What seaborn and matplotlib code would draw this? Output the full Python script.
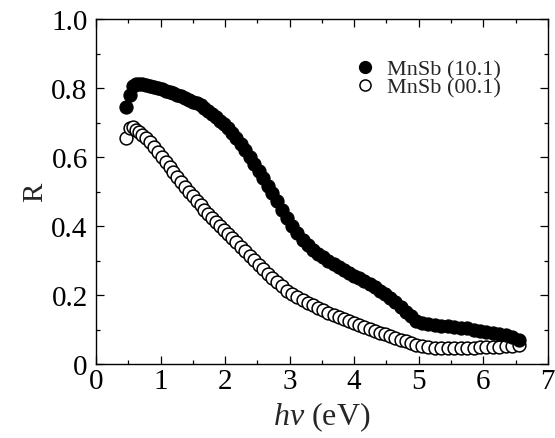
import matplotlib
matplotlib.use("Agg")
import matplotlib.pyplot as plt
import seaborn as sns
import pandas as pd
from matplotlib.ticker import MultipleLocator
from matplotlib.lines import Line2D

energy = [0.47, 0.52, 0.57, 0.62, 0.67, 0.72, 0.78, 0.84, 0.90, 0.96, 1.02, 1.08, 1.14, 1.20,
          1.26, 1.32, 1.38, 1.44, 1.50, 1.56, 1.62, 1.68, 1.74, 1.80, 1.86, 1.92, 1.98, 2.04,
          2.10, 2.17, 2.24, 2.31, 2.38, 2.45, 2.52, 2.59, 2.66, 2.73, 2.80, 2.88, 2.96, 3.04,
          3.12, 3.20, 3.28, 3.36, 3.44, 3.52, 3.60, 3.68, 3.76, 3.84, 3.92, 4.00, 4.08, 4.16,
          4.24, 4.32, 4.40, 4.48, 4.56, 4.64, 4.72, 4.80, 4.88, 4.96, 5.05, 5.15, 5.25, 5.35,
          5.45, 5.55, 5.65, 5.75, 5.85, 5.95, 6.05, 6.15, 6.25, 6.35, 6.45, 6.55]

r_101 = [0.745, 0.780, 0.805, 0.812, 0.813, 0.812, 0.810, 0.807, 0.804, 0.800, 0.797, 0.793,
         0.789, 0.785, 0.781, 0.776, 0.771, 0.766, 0.761, 0.756, 0.750, 0.743, 0.734, 0.725,
         0.716, 0.706, 0.695, 0.683, 0.670, 0.655, 0.638, 0.620, 0.601, 0.581, 0.560, 0.539,
         0.517, 0.495, 0.472, 0.448, 0.424, 0.400, 0.380, 0.360, 0.344, 0.330, 0.319, 0.309,
         0.299, 0.290, 0.281, 0.272, 0.264, 0.256, 0.248, 0.240, 0.231, 0.222, 0.212, 0.202,
         0.191, 0.179, 0.166, 0.152, 0.138, 0.126, 0.120, 0.115, 0.113, 0.111, 0.109, 0.107,
         0.105, 0.103, 0.100, 0.097, 0.094, 0.091, 0.088, 0.084, 0.079, 0.070]

r_001 = [0.655, 0.685, 0.688, 0.680, 0.672, 0.665, 0.655, 0.643, 0.630, 0.616, 0.601, 0.586,
         0.571, 0.556, 0.541, 0.527, 0.513, 0.499, 0.486, 0.473, 0.460, 0.447, 0.435, 0.423,
         0.411, 0.399, 0.388, 0.377, 0.366, 0.353, 0.340, 0.327, 0.314, 0.301, 0.288, 0.275,
         0.262, 0.250, 0.238, 0.225, 0.213, 0.202, 0.193, 0.185, 0.177, 0.170, 0.163, 0.156,
         0.149, 0.142, 0.136, 0.130, 0.124, 0.118, 0.112, 0.106, 0.101, 0.096, 0.091, 0.086,
         0.081, 0.076, 0.071, 0.066, 0.061, 0.056, 0.052, 0.049, 0.047, 0.046, 0.046, 0.046,
         0.046, 0.047, 0.047, 0.048, 0.048, 0.049, 0.050, 0.051, 0.052, 0.055]

labels = ["MnSb (10.1)", "MnSb (00.1)"]
xticks = [0, 1, 2, 3, 4, 5, 6, 7]
xticklabels = ["0", "1", "2", "3", "4", "5", "6", "7"]
yticks = [0, 0.2, 0.4, 0.6, 0.8, 1.0]
yticklabels = ["0", "0.2", "0.4", "0.6", "0.8", "1.0"]

sns.set_style("ticks")
plt.rcParams['font.family'] = ['Liberation Serif', 'DejaVu Serif']
plt.rcParams['mathtext.fontset'] = 'custom'
plt.rcParams['mathtext.it'] = 'Liberation Serif:italic'
plt.rcParams['mathtext.rm'] = 'Liberation Serif'

df1 = pd.DataFrame({"E": energy, "R": r_101})
df2 = pd.DataFrame({"E": energy, "R": r_001})

fig = plt.figure(figsize=(5.55, 4.39), dpi=100)
ax = fig.add_axes([0.173, 0.1686, 0.814, 0.7854])

sns.scatterplot(data=df1, x="E", y="R", ax=ax, s=90, color="black", edgecolor="black",
                linewidth=0.8, zorder=3)
sns.scatterplot(data=df2, x="E", y="R", ax=ax, s=85, facecolor="white", edgecolor="black",
                linewidth=1.1, zorder=2)

ax.set_xlim(0, 7)
ax.set_ylim(0, 1.0)
ax.set_xticks(xticks)
ax.set_xticklabels(xticklabels)
ax.set_yticks(yticks)
ax.set_yticklabels(yticklabels)
ax.xaxis.set_minor_locator(MultipleLocator(0.5))
ax.yaxis.set_minor_locator(MultipleLocator(0.1))
ax.tick_params(which="both", direction="in", top=True, right=True, width=0.9,
               labelsize=21, colors="black")
ax.tick_params(which="major", length=6)
ax.tick_params(which="minor", length=3)
ax.tick_params(axis="y", which="major", pad=6)
ax.tick_params(axis="x", which="major", pad=3)
for sp in ax.spines.values():
    sp.set_linewidth(1.0)
    sp.set_color("black")

ax.set_xlabel(r"$hv$ (eV)", fontsize=23, labelpad=4)
ax.set_ylabel("R", fontsize=21, labelpad=2)

handles = [Line2D([], [], marker="o", linestyle="none", markersize=8.5,
                  markerfacecolor="black", markeredgecolor="black"),
           Line2D([], [], marker="o", linestyle="none", markersize=8,
                  markerfacecolor="white", markeredgecolor="black", markeredgewidth=1.1)]
ax.legend(handles, labels, loc="upper left", bbox_to_anchor=(0.571, 0.885), frameon=False,
          fontsize=16, handletextpad=0.5, labelspacing=-0.1, handlelength=1.0,
          borderaxespad=0, borderpad=0)

fig.savefig("out.png", dpi=100)
